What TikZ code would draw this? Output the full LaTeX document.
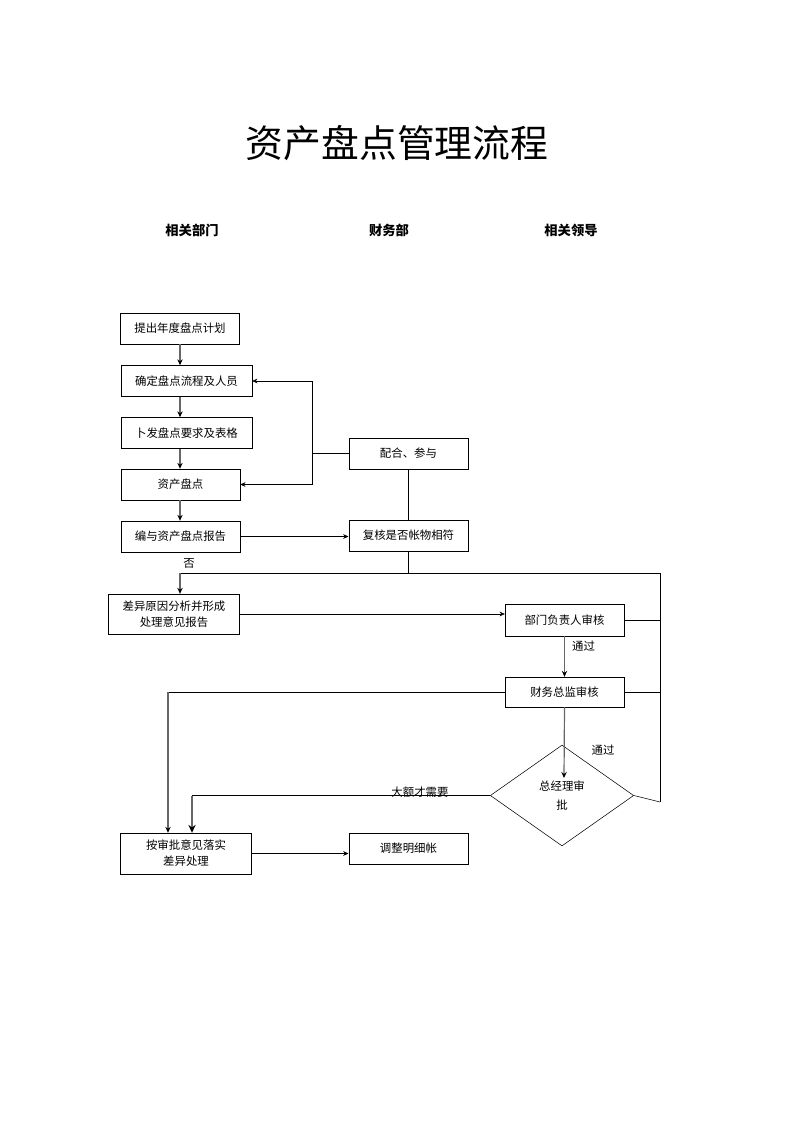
\documentclass[tikz,border=0pt]{standalone}
\usepackage{fontspec}
\setmainfont{Noto Sans CJK SC}
\usetikzlibrary{arrows.meta}
\usetikzlibrary{shapes.geometric}

\tikzset{
  box/.style={draw, thin, inner sep=1pt, minimum height=23.3pt, font=\fontsize{8.6pt}{12pt}\selectfont, align=center},
  flow/.style={thin, -{Stealth[length=4pt,width=3.5pt]}},
  gflow/.style={draw=black!60, line width=0.9pt, -{Stealth[length=4.5pt,width=4pt,color=black]}},
  lab/.style={font=\fontsize{8.6pt}{10pt}\selectfont}
}

\begin{document}
\begin{tikzpicture}[x=0.2648mm, y=-0.2648mm]
        \useasboundingbox (0,0) rectangle (793,1122);

        \node at (397,143) {\fontsize{28.5pt}{32pt}\selectfont 资产盘点管理流程};
        \node[font=\fontsize{10pt}{12pt}\selectfont\bfseries] at (192,230) {相关部门};
        \node[font=\fontsize{10pt}{12pt}\selectfont\bfseries] at (389,230) {财务部};
        \node[font=\fontsize{10pt}{12pt}\selectfont\bfseries] at (571,230) {相关领导};

        % 相关部门
        \node[box, minimum width=90pt] (plan) at (180,328.5) {提出年度盘点计划};
        \node[box, minimum width=98.5pt] (confirm) at (186.5,381) {确定盘点流程及人员};
        \node[box, minimum width=98.5pt] (issue) at (186.5,433) {卜发盘点要求及表格};
        \node[box, minimum width=89.5pt] (count) at (180.5,484.5) {资产盘点};
        \node[box, minimum width=89.5pt] (report) at (180.5,536.5) {编与资产盘点报告};
        \node[box, minimum width=99pt, minimum height=30pt, text width=94pt] (analyse) at (174,614) {差异原因分析并形成\\处理意见报告};
        \node[box, minimum width=99pt, minimum height=30.8pt, text width=94pt] (handle) at (186,853.5) {按审批意见落实\\差异处理};

        % 财务部
        \node[box, minimum width=90pt] (assist) at (408.5,453.5) {配合、参与};
        \node[box, minimum width=90pt] (check) at (408.5,535.5) {复核是否帐物相符};
        \node[box, minimum width=90pt] (adjust) at (408.5,848.5) {调整明细帐};

        % 相关领导
        \node[box, minimum width=89.5pt, minimum height=24pt] (deptrev) at (564.5,620) {部门负责人审核};
        \node[box, minimum width=89.5pt, minimum height=22.5pt] (finrev) at (564.5,692) {财务总监审核};
        \node[box, diamond, inner sep=0pt, minimum width=108pt, minimum height=76pt, text width=50pt,
              font=\fontsize{8.6pt}{14.5pt}\selectfont] (gm) at (562,795.5) {总经理审\\批};

        \coordinate (loop) at (312,453.5);
        \coordinate (split) at (408.5,573);
        \coordinate (no) at (180,573);
        \coordinate (ra) at (660,573);
        \coordinate (rb) at (660,802);
        \coordinate (fin) at (168,692);
        \coordinate (big) at (192,795.5);

        \draw[gflow] (plan.south) -- (plan.south |- confirm.north);
        \draw[gflow] (plan.south |- confirm.south) -- (plan.south |- issue.north);
        \draw[gflow] (plan.south |- issue.south) -- (plan.south |- count.north);
        \draw[gflow] (plan.south |- count.south) -- (plan.south |- report.north);

        \draw[thin] (assist.west) -- (loop);
        \draw[flow] (loop) |- (confirm.east);
        \draw[flow] (loop) |- (count.east);
        \draw[thin] (assist.south) -- (check.north);
        \draw[flow] (report.east) -- (report.east -| check.west);

        \draw[thin] (check.south) -- (split);
        \draw[thin] (no) -- (ra) -- (rb);
        \draw[gflow] (no) -- (analyse.north -| no);
        \node[lab] at (189,563) {否};

        \draw[flow] (analyse.east) -- (analyse.east -| deptrev.west);
        \draw[thin] (deptrev.east) -- (deptrev.east -| ra);
        \draw[gflow] (deptrev.south) -- (finrev.north) node[lab, pos=0.25, right=2pt] {通过};
        \draw[thin] (finrev.east) -- (finrev.east -| ra);
        \draw[thin] (gm.east) -- (rb);
        \node[lab] at (603,750) {通过};

        \draw[gflow] (finrev.south) -- (564,778);
        \draw[thin] (finrev.west) -- (fin);
        \draw[gflow] (fin) -- (fin |- handle.north);
        \draw[thin] (gm.west) -- (big);
        \draw[draw=black!60, line width=1.4pt, -{Stealth[length=6pt,width=5.5pt,color=black]}] (big) -- (big |- handle.north);
        \node[lab] at (420,792) {大额才需要};

        \draw[flow] (handle.east) -- (handle.east -| adjust.west);
\end{tikzpicture}
\end{document}
